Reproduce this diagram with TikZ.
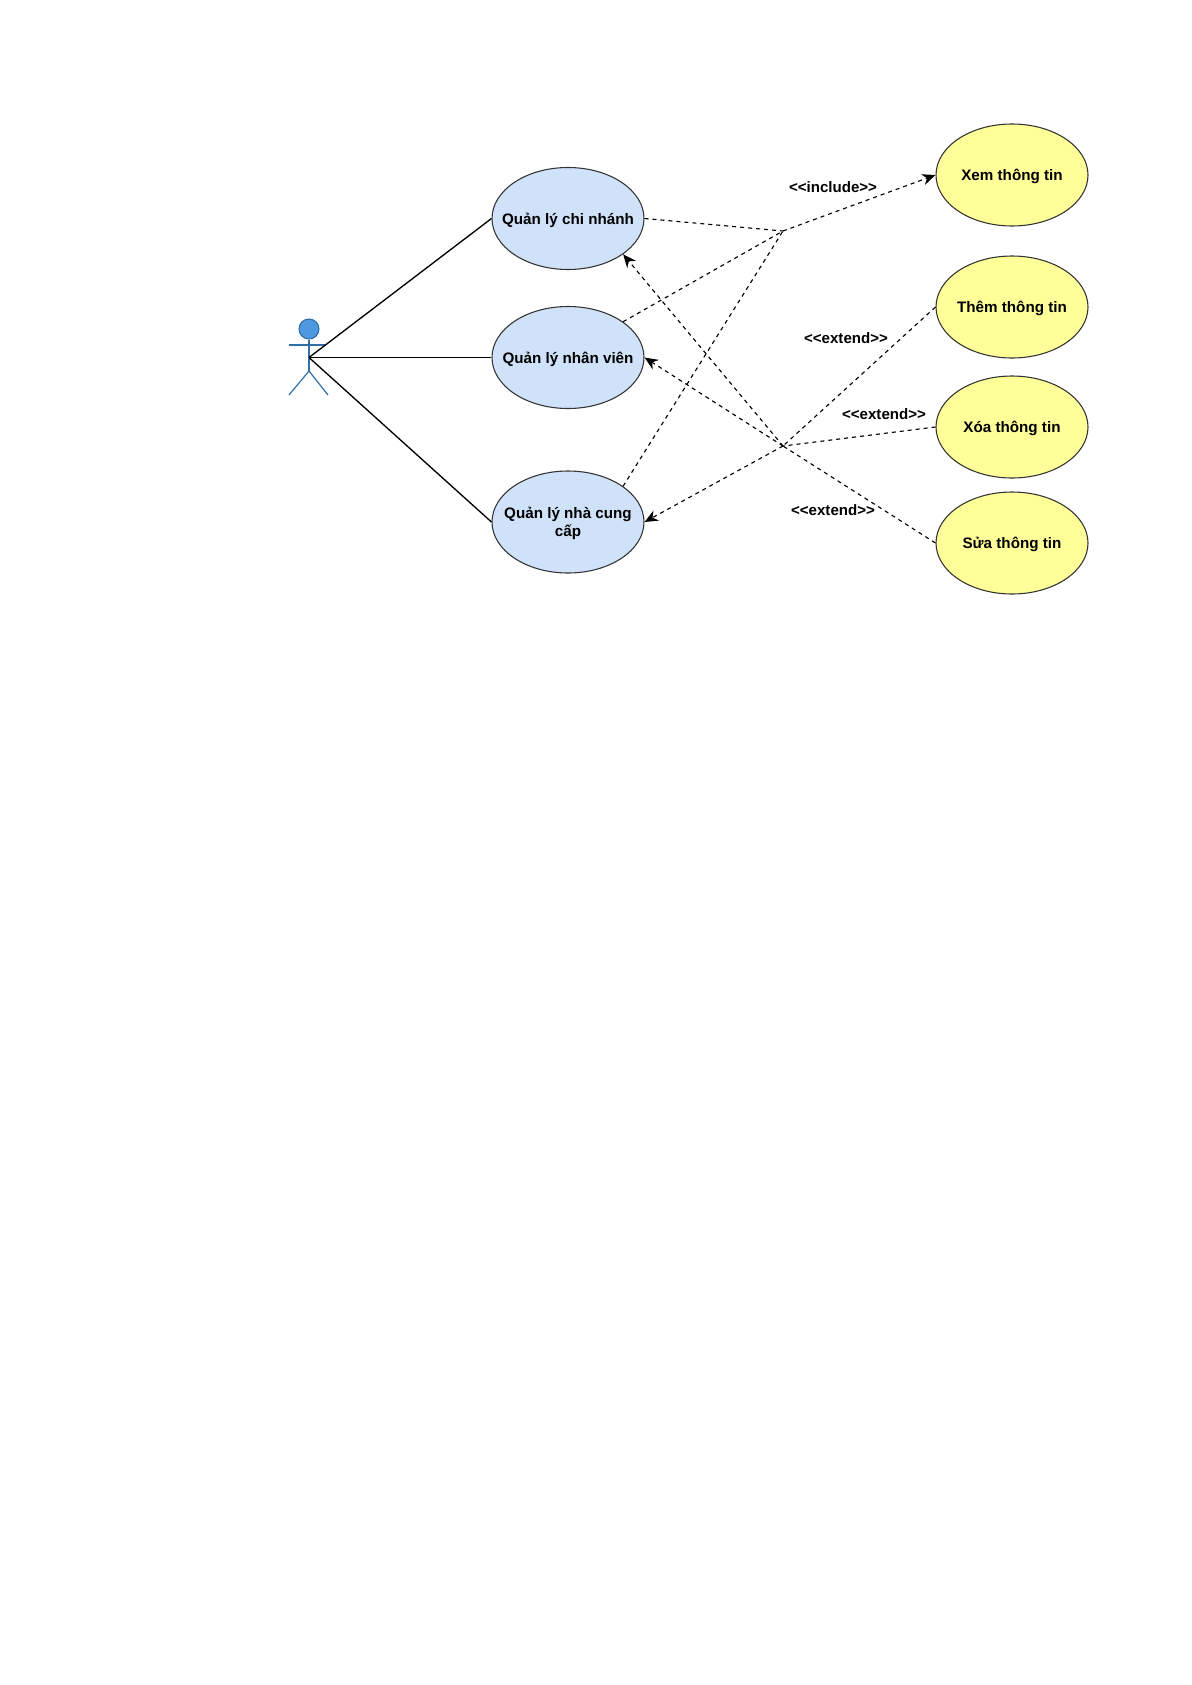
\documentclass[tikz,border=0pt]{standalone}
\usepackage{fontspec}
\setmainfont{Liberation Sans}
\usetikzlibrary{arrows.meta,shapes.geometric}
\definecolor{usecaseblue}{HTML}{D0E2FA}
\definecolor{usecaseyellow}{HTML}{FFFF99}
\definecolor{actorfill}{HTML}{4F97DE}
\definecolor{actorline}{HTML}{2F6EA6}
\tikzset{
  usecase/.style={ellipse, draw=black!80, line width=.8pt, minimum width=114pt, minimum height=76.5pt,
    inner xsep=-25pt, inner ysep=0pt, text height=8.6pt, text depth=0pt, align=center,
    font=\fontsize{11.4}{13.5}\selectfont\bfseries},
  usecaseB/.style={usecase, fill=usecaseblue},
  usecaseY/.style={usecase, fill=usecaseyellow},
  assoc/.style={black, line width=1pt},
  dep/.style={black, line width=.85pt, dashed},
  deparrow/.style={dep, -{Stealth[length=10pt,width=8.5pt]}},
  stereo/.style={font=\fontsize{11.3}{13}\selectfont\bfseries, inner sep=0pt},
  actorpart/.style={actorline, line width=.9pt},
}
\begin{document}
\begin{tikzpicture}[x=.75pt,y=-.75pt]
  \useasboundingbox (0,0) rectangle (1192,1685);
  % actor
  \node[circle, draw=actorline, fill=actorfill, line width=.8pt, minimum size=15pt, inner sep=0pt] (head) at (309,329) {};
  \coordinate (hip) at (309,357.5);
  \coordinate (crotch) at (309,371);
  \draw[actorpart] (head.south) -- (crotch);
  \draw[actorpart] (289,345) -- (326,345);
  \draw[actorpart] (289,395) -- (crotch) -- (328,395);
  % usecases
  \node[usecaseB] (chinhanh) at (568,218.5) {Quản lý chi nhánh};
  \node[usecaseB] (nhanvien) at (568,357.5) {Quản lý nhân viên};
  \node[usecaseB, text height=21pt] (nhacc) at (568,522) {Quản lý nhà cung\\cấp};
  \node[usecaseY] (xem) at (1012,175) {Xem thông tin};
  \node[usecaseY] (them) at (1012,307) {Thêm thông tin};
  \node[usecaseY] (xoa) at (1012,427) {Xóa thông tin};
  \node[usecaseY] (sua) at (1012,543) {Sửa thông tin};
  % junctions
  \coordinate (incl) at (783,231);
  \coordinate (ext) at (783,446);
  % actor lines
  \foreach \n in {chinhanh, nhanvien, nhacc} {
    \draw[assoc] (hip) -- (\n.west);
  };
  % include
  \draw[dep] (chinhanh.east) -- (incl);
  \draw[dep] (nhanvien.33) -- (incl);
  \draw[dep] (nhacc.33) -- (incl);
  \draw[deparrow] (incl) -- (xem.west);
  % extend
  \foreach \n in {them, xoa, sua} {
    \draw[dep] (\n.west) -- (ext);
  };
  \draw[deparrow] (ext) -- (chinhanh.-33);
  \draw[deparrow] (ext) -- (nhanvien.east);
  \draw[deparrow] (ext) -- (nhacc.east);
  % labels
  \node[stereo] (lblincl) at (833,187) {<{}<include>{}>};
  \node[stereo] (lblthem) at (846,338) {<{}<extend>{}>};
  \node[stereo] (lblxoa) at (884,414) {<{}<extend>{}>};
  \node[stereo] (lblsua) at (833,510) {<{}<extend>{}>};
\end{tikzpicture}
\end{document}
